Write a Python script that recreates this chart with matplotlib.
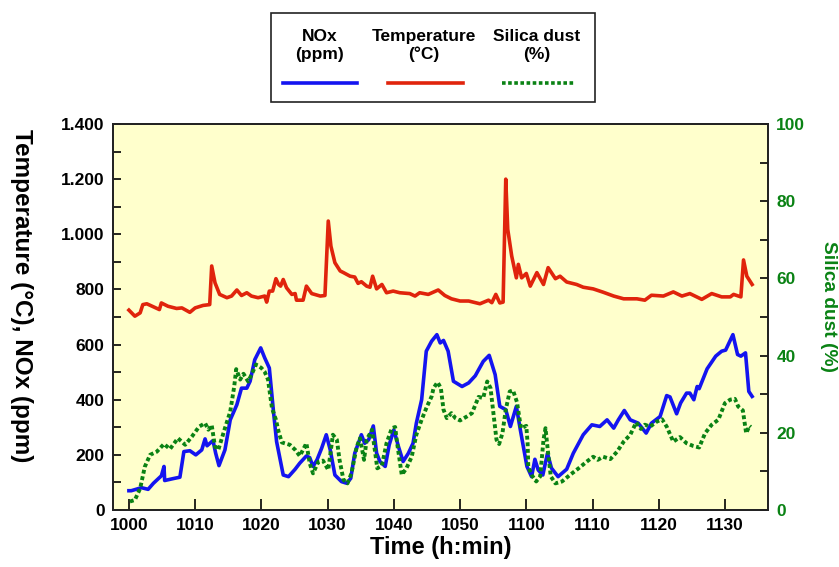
import matplotlib.pyplot as plt
from matplotlib.lines import Line2D
from matplotlib.patches import Rectangle
from matplotlib.ticker import MultipleLocator

plt.rcParams['font.family'] = ['Liberation Sans', 'DejaVu Sans']
plt.rcParams['font.weight'] = 'bold'

# minutes after 10:00
temp_t = [0.0, 0.9, 1.7, 2.1, 2.7, 3.7, 4.6, 4.9, 5.9, 7.2, 8.0, 9.2, 10.0, 11.2, 12.2, 12.5, 13.0,
          13.7, 14.8, 15.5, 16.3, 17.0, 17.8, 18.5, 19.5, 20.5, 20.8, 21.2, 21.7, 22.2, 22.6, 22.9,
          23.3, 23.8, 24.6, 25.1, 25.3, 26.3, 26.8, 27.6, 28.9, 29.6, 30.1, 30.5, 31.1, 31.9, 32.4,
          33.4, 34.1, 34.6, 35.1, 35.9, 36.4, 36.8, 37.4, 38.2, 38.9, 39.9, 40.9, 42.4, 43.2, 43.9,
          45.2, 46.7, 47.7, 48.7, 50.0, 51.3, 53.0, 54.3, 54.8, 55.4, 56.0, 56.5, 56.9, 57.2, 57.8,
          58.5, 58.8, 59.3, 60.0, 60.6, 61.6, 62.6, 63.3, 64.4, 65.1, 66.1, 67.6, 68.6, 70.1, 71.6,
          73.2, 74.7, 76.7, 77.9, 78.9, 80.7, 82.2, 83.5, 84.7, 86.5, 88.0, 89.5, 90.8, 91.3, 92.4,
          92.8, 93.3, 94.1]
temp = [725, 703, 715, 745, 748, 737, 727, 751, 739, 731, 733, 717, 733, 742, 745, 885, 824,
        782, 770, 776, 798, 778, 788, 776, 770, 776, 754, 794, 794, 839, 818, 812,
        836, 806, 782, 785, 761, 761, 812, 785, 776, 778, 1048, 957, 897, 867, 861,
        848, 845, 822, 828, 812, 808, 848, 802, 818, 788, 794, 788, 785, 776, 788,
        782, 798, 778, 766, 758, 758, 748, 761, 752, 782, 751, 754, 1200, 1018, 921,
        842, 891, 842, 858, 812, 861, 818, 879, 839, 848, 827, 818, 808, 802, 790,
        776, 766, 766, 761, 779, 776, 791, 776, 785, 764, 785, 773, 773, 782, 773,
        907, 848, 818]

nox_t = [0.0, 0.35, 1.9, 2.9, 3.7, 4.9, 5.3, 5.4, 6.7, 7.7, 8.3, 9.2, 10.1, 11.0, 11.5, 11.8,
         12.7, 13.1, 13.6, 14.5, 15.3, 16.3, 17.0, 17.8, 18.3, 19.0, 19.9, 20.5, 21.2, 21.8, 22.3,
         23.3, 24.1, 25.1, 25.8, 26.8, 27.3, 27.8, 28.4, 29.1, 29.8, 30.4, 31.1, 32.1, 32.9, 33.5,
         34.1, 35.1, 35.6, 36.2, 36.9, 37.4, 37.9, 38.7, 39.3, 40.0, 40.7, 41.4, 42.2, 42.9, 43.4,
         44.2, 44.9, 45.7, 46.5, 47.0, 47.5, 48.2, 49.0, 50.3, 51.3, 52.3, 53.5, 54.4, 55.3, 56.0,
         56.9, 57.6, 58.5, 59.1, 60.1, 60.8, 61.3, 61.8, 62.5, 63.2, 63.8, 64.8, 66.1, 67.1, 68.6,
         69.9, 71.1, 72.2, 73.2, 73.9, 74.8, 75.7, 76.9, 78.1, 78.9, 80.2, 81.2, 81.7, 82.7, 83.3,
         84.2, 84.7, 85.3, 85.8, 86.1, 87.3, 88.6, 89.5, 90.1, 91.2, 91.9, 92.4, 93.1, 93.6, 94.1]
nox = [70, 70, 81, 75, 97, 124, 158, 107, 114, 119, 212, 215, 200, 218, 258, 233,
       252, 206, 161, 218, 327, 382, 442, 442, 467, 545, 588, 552, 515, 364, 248,
       127, 121, 148, 170, 196, 190, 158, 182, 224, 273, 218, 127, 103, 97, 115,
       206, 273, 242, 255, 305, 206, 176, 158, 236, 291, 230, 176, 206, 242, 315,
       400, 576, 612, 636, 606, 615, 576, 467, 448, 461, 487, 539, 561, 491, 376,
       364, 303, 376, 291, 158, 121, 184, 145, 127, 206, 152, 121, 148, 206, 273,
       309, 303, 327, 297, 327, 361, 327, 315, 279, 315, 339, 415, 410, 349, 388,
       424, 424, 400, 448, 440, 512, 558, 576, 580, 636, 564, 558, 570, 430, 412]

silica_t = [0.15, 0.9, 1.7, 2.4, 3.2, 4.2, 5.3, 6.2, 7.4, 8.5, 9.5, 10.6, 11.5, 12.0, 12.5, 13.0,
            13.5, 14.5, 15.3, 15.9, 16.2, 16.8, 17.3, 18.0, 18.5, 19.2, 20.0, 20.5, 21.0, 21.6,
            22.2, 22.6, 23.1, 24.3, 25.1, 25.8, 26.8, 27.3, 27.8, 28.6, 29.3, 30.1, 30.8, 31.4,
            31.8, 32.4, 33.0, 33.6, 34.4, 34.9, 35.5, 35.9, 36.7, 37.2, 37.5, 38.2, 38.9, 39.7,
            40.2, 40.5, 41.2, 41.9, 42.7, 43.4, 44.2, 45.0, 45.7, 46.0, 46.6, 47.1, 47.5, 48.0,
            48.7, 49.3, 50.0, 51.0, 51.8, 52.8, 53.5, 54.1, 54.6, 55.1, 55.5, 55.9, 56.4, 56.9,
            57.5, 58.0, 58.6, 59.2, 60.0, 60.2, 60.3, 60.8, 61.5, 62.1, 62.6, 62.9, 63.3, 63.7,
            64.4, 65.4, 66.6, 67.9, 69.1, 70.1, 70.8, 71.6, 72.7, 73.7, 74.7, 75.7, 76.6, 77.3,
            77.9, 78.7, 79.7, 80.5, 81.2, 82.2, 83.2, 84.2, 85.2, 86.1, 87.0, 88.0, 89.0, 90.0,
            90.8, 91.5, 92.0, 92.7, 93.2, 93.7, 93.9]
silica = [2.2, 2.6, 5.6, 11.2, 14.3, 15.1, 17.1, 15.8, 18.6, 16.9, 19.0, 21.6, 22.5, 20.8, 22.0, 16.4,
          15.6, 21.2, 25.5, 32.0, 36.5, 33.8, 35.3, 33.3, 35.0, 37.7, 36.8, 35.8, 33.8, 26.4,
          23.4, 20.3, 17.5, 16.9, 15.6, 14.0, 17.3, 12.1, 9.5, 12.5, 12.8, 10.4, 19.5, 18.2,
          13.0, 7.8, 6.9, 9.5, 16.4, 18.6, 13.0, 18.2, 20.8, 14.7, 10.8, 11.5, 17.3, 21.2,
          21.5, 17.3, 9.1, 10.8, 13.8, 19.5, 23.4, 26.8, 29.4, 31.6, 33.1, 31.6, 26.0, 23.8,
          25.1, 23.8, 23.2, 24.2, 25.1, 29.3, 29.0, 33.3, 31.6, 24.2, 18.2, 17.1, 19.9, 26.0,
          30.7, 31.0, 27.9, 21.2, 21.8, 17.3, 11.2, 9.1, 7.4, 8.7, 18.2, 21.2, 14.7, 8.7,
          6.9, 7.4, 9.1, 10.8, 12.5, 13.8, 13.0, 13.8, 13.2, 15.1, 17.7, 19.5, 22.7, 21.0,
          22.1, 21.6, 22.9, 23.5, 21.6, 17.7, 18.9, 17.3, 16.6, 16.2, 19.9, 22.1, 23.4, 27.7,
          28.6, 28.8, 26.8, 25.8, 19.9, 21.8, 21.5]

time_ticks = [0, 10, 20, 30, 40, 50, 60, 70, 80, 90]
time_labels = ["1000", "1010", "1020", "1030", "1040", "1050", "1100", "1110", "1120", "1130"]
left_ticks = [0, 200, 400, 600, 800, 1000, 1200, 1400]
left_labels = ["0", "200", "400", "600", "800", "1.000", "1.200", "1.400"]
right_ticks = [0, 20, 40, 60, 80, 100]

blue = "#1414f0"
red = "#e0240c"
green = "#0a8214"

fig = plt.figure(figsize=(8.39, 5.67), dpi=100)
ax = fig.add_axes([0.1347, 0.1005, 0.7807, 0.6808])
ax.set_facecolor("#ffffcc")
ax2 = ax.twinx()

ax.plot(temp_t, temp, color=red, lw=2.6, solid_joinstyle="round")
ax.plot(nox_t, nox, color=blue, lw=2.6, solid_joinstyle="round")
ax2.plot(silica_t, silica, color=green, lw=2.8, linestyle=(0, (1, 0.7)), dash_capstyle="butt")

ax.set_xlim(-2.4, 96.5)
ax.set_ylim(0, 1400)
ax2.set_ylim(0, 100)

ax.set_xticks(time_ticks)
ax.set_xticklabels(time_labels)
ax.set_yticks(left_ticks)
ax.set_yticklabels(left_labels)
ax.yaxis.set_minor_locator(MultipleLocator(100))
ax2.set_yticks(right_ticks)
ax2.yaxis.set_minor_locator(MultipleLocator(10))

for a in (ax, ax2):
    for s in a.spines.values():
        s.set_linewidth(1.3)
        s.set_color("#222222")
ax.tick_params(axis="both", which="both", direction="in", labelsize=12.5, width=1.2, pad=6)
ax.tick_params(axis="x", which="major", length=8)
ax.tick_params(axis="y", which="both", length=6)
ax2.tick_params(axis="y", which="both", direction="in", length=6, width=1.2,
                labelsize=12.5, labelcolor=green, pad=6)
for lab in ax.get_xticklabels() + ax.get_yticklabels() + ax2.get_yticklabels():
    lab.set_fontweight("bold")

ax.set_xlabel("Time (h:min)", fontsize=17, fontweight="bold", labelpad=2)
ax.set_ylabel("Temperature (°C), NOx (ppm)", fontsize=17.5, fontweight="bold",
              rotation=270, va="center", ha="center")
ax.yaxis.set_label_coords(-0.139, 0.554)
ax2.set_ylabel("Silica dust (%)", fontsize=13.8, fontweight="bold", color=green,
               rotation=270, va="center", ha="center")
ax2.yaxis.set_label_coords(1.093, 0.526)

# legend box drawn in figure coordinates
W, H = 839, 567
fig.patches.append(Rectangle((271 / W, 1 - 102 / H), 324 / W, 89 / H, transform=fig.transFigure,
                             facecolor="white", edgecolor="#222222", lw=1.2))
legend_items = [("NOx\n(ppm)", blue, "-", 283, 357, 320),
                ("Temperature\n(°C)", red, "-", 388, 463, 424),
                ("Silica dust\n(%)", green, (0, (1, 0.7)), 502, 575, 537)]
for text, col, ls, x0, x1, xc in legend_items:
    fig.text(xc / W, 1 - 45.5 / H, text, ha="center", va="center", fontsize=12.5,
             fontweight="bold", linespacing=1.2)
    fig.lines.append(Line2D([x0 / W, x1 / W], [1 - 83 / H, 1 - 83 / H], transform=fig.transFigure,
                            color=col, lw=2.6, linestyle=ls, dash_capstyle="butt"))

fig.savefig("out.png", dpi=100)
